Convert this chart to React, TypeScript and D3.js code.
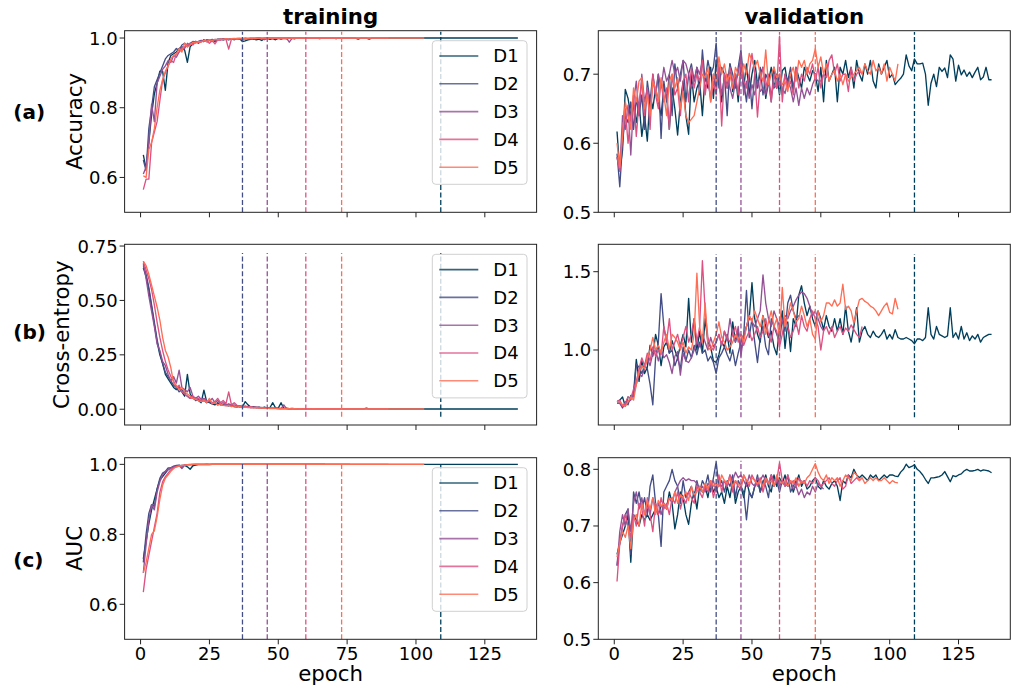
import * as d3 from 'd3'

const runNames = ['D1', 'D2', 'D3', 'D4', 'D5']
const runColors = ['#003f5c', '#444e86', '#955196', '#dd5182', '#ff6e54']
const bestEpochs = [109, 37, 46, 60, 73]
const epochTicks = [0, 25, 50, 75, 100, 125]

// ---- training accuracy ----
const trainAccD1 = [
  0.665, 0.625, 0.70, 0.78, 0.84, 0.87, 0.905, 0.905, 0.85, 0.93,
  0.95, 0.955, 0.96, 0.97, 0.975, 0.965, 0.93, 0.975, 0.985, 0.99,
  0.985, 0.99, 0.995, 0.99, 0.993, 0.995, 0.99, 0.996, 0.997, 0.995,
  0.997, 0.995, 0.998, 0.996, 0.997, 0.998, 0.99, 0.992, 0.995, 0.996,
  0.998, 0.995, 0.997, 0.993, 0.998, 0.999, 0.996, 0.998, 0.995, 0.999,
  0.997, 0.999, 0.998, 1, 0.999, 0.998, 1, 0.999, 1, 0.999,
  1, 0.999, 1, 1, 0.998, 1, 1, 0.999, 1, 1,
  0.998, 1, 1, 1, 0.999, 1, 1, 1, 0.997, 1,
  1, 1, 0.997, 1, 1, 1, 1, 1, 1, 1,
  1, 1, 1, 1, 1, 1, 1, 1, 1, 1,
  1, 1, 1, 1, 1, 1, 1, 1, 1, 1,
  1, 1, 1, 1, 1, 1, 1, 1, 1, 1,
  1, 1, 1, 1, 1, 1, 1, 1, 1, 1,
  1, 1, 1, 1, 1, 1, 1,
]
const trainAccD2 = [
  0.65, 0.62, 0.74, 0.80, 0.86, 0.88, 0.90, 0.92, 0.94, 0.95,
  0.955, 0.96, 0.97, 0.965, 0.98, 0.985, 0.975, 0.985, 0.99, 0.988,
  0.99, 0.993, 0.99, 0.995, 0.993, 0.996, 0.994, 0.997, 0.995, 0.998,
  0.996, 0.997, 0.998, 0.995, 0.998, 0.999, 0.997, 0.999, 0.998, 0.999,
  0.996, 0.999, 1, 0.998, 0.999, 1, 0.999, 1, 0.998, 1,
  1, 0.999, 1, 1, 0.999, 1, 1, 1, 0.999, 1,
  1, 1, 1, 1, 1, 1, 1,
]
const trainAccD3 = [
  0.61, 0.63, 0.70, 0.81, 0.76, 0.87, 0.89, 0.91, 0.92, 0.935,
  0.93, 0.95, 0.945, 0.96, 0.975, 0.97, 0.985, 0.98, 0.985, 0.99,
  0.988, 0.992, 0.99, 0.995, 0.993, 0.99, 0.996, 0.994, 0.997, 0.995,
  0.997, 0.996, 0.998, 0.997, 0.999, 0.998, 0.997, 0.999, 0.998, 0.999,
  0.999, 0.998, 1, 0.999, 0.995, 0.999, 1, 0.999, 1, 1,
  0.999, 1, 1, 0.988, 0.999, 1, 1, 1, 1, 0.999,
  1, 1, 1, 1, 1, 1, 1, 1, 1, 1,
  1, 1, 1, 1, 1, 1,
]
const trainAccD4 = [
  0.565, 0.595, 0.595, 0.70, 0.73, 0.76, 0.82, 0.88, 0.90, 0.92,
  0.935, 0.93, 0.955, 0.96, 0.97, 0.975, 0.98, 0.985, 0.98, 0.99,
  0.987, 0.99, 0.992, 0.99, 0.985, 0.993, 0.983, 0.995, 0.994, 0.997,
  0.996, 0.968, 0.997, 0.998, 0.996, 0.998, 0.999, 0.997, 0.999, 0.998,
  0.999, 1, 0.999, 0.998, 1, 0.999, 1, 1, 0.999, 1,
  1, 1, 0.999, 1, 1, 1, 1, 0.999, 1, 1,
  1, 1, 1, 1, 1, 1, 1, 1, 1, 1,
  1, 1, 1, 1, 1, 1, 1, 1, 1, 1,
  1, 1, 1, 1, 1, 1, 1, 1, 1, 1,
]
const trainAccD5 = [
  0.605, 0.60, 0.68, 0.70, 0.74, 0.80, 0.85, 0.88, 0.905, 0.92,
  0.94, 0.95, 0.955, 0.97, 0.96, 0.985, 0.975, 0.98, 0.988, 0.985,
  0.99, 0.988, 0.993, 0.99, 0.995, 0.993, 0.996, 0.995, 0.997, 0.996,
  0.998, 0.997, 0.998, 0.999, 0.998, 0.999, 0.999, 1, 0.999, 1,
  1, 0.999, 1, 1, 1, 0.999, 1, 1, 1, 1,
  1, 1, 1, 1, 1, 1, 1, 1, 1, 1,
  1, 1, 1, 1, 1, 1, 1, 1, 1, 1,
  1, 1, 1, 1, 1, 1, 1, 1, 1, 1,
  1, 1, 1, 1, 1, 1, 1, 1, 1, 1,
  1, 1, 1, 1, 1, 1, 1, 1, 1, 1,
  1, 1, 1,
]

// ---- validation accuracy ----
const valAccD1 = [
  0.617, 0.56, 0.59, 0.678, 0.665, 0.64, 0.655, 0.63, 0.66, 0.61,
  0.64, 0.603, 0.67, 0.65, 0.68, 0.66, 0.64, 0.68, 0.67, 0.62,
  0.68, 0.65, 0.612, 0.66, 0.69, 0.64, 0.613, 0.70, 0.66, 0.68,
  0.69, 0.64, 0.70, 0.68, 0.71, 0.665, 0.72, 0.69, 0.66, 0.70,
  0.68, 0.715, 0.675, 0.70, 0.66, 0.71, 0.68, 0.715, 0.67, 0.70,
  0.72, 0.685, 0.70, 0.71, 0.665, 0.69, 0.71, 0.68, 0.70, 0.67,
  0.705, 0.71, 0.685, 0.70, 0.675, 0.71, 0.695, 0.68, 0.71, 0.70,
  0.69, 0.705, 0.70, 0.675, 0.71, 0.66, 0.72, 0.69, 0.70, 0.71,
  0.66, 0.71, 0.70, 0.72, 0.695, 0.71, 0.68, 0.72, 0.70, 0.69,
  0.715, 0.70, 0.72, 0.69, 0.68, 0.715, 0.70, 0.71, 0.72, 0.695,
  0.70, 0.685, 0.69, 0.694, 0.70, 0.728, 0.712, 0.705, 0.722, 0.715,
  0.715, 0.716, 0.70, 0.655, 0.687, 0.70, 0.682, 0.71, 0.704, 0.709,
  0.695, 0.728, 0.722, 0.69, 0.713, 0.699, 0.706, 0.697, 0.703, 0.695,
  0.703, 0.71, 0.692, 0.696, 0.71, 0.692, 0.692,
]
const valAccD2 = [
  0.585, 0.537, 0.60, 0.64, 0.63, 0.66, 0.62, 0.665, 0.64, 0.67,
  0.62, 0.69, 0.66, 0.70, 0.67, 0.70, 0.607, 0.69, 0.66, 0.70,
  0.64, 0.715, 0.68, 0.70, 0.72, 0.66, 0.70, 0.715, 0.69, 0.71,
  0.67, 0.735, 0.69, 0.72, 0.70, 0.71, 0.745, 0.68, 0.71, 0.70,
  0.64, 0.715, 0.70, 0.68, 0.71, 0.735, 0.69, 0.66, 0.70, 0.65,
  0.70, 0.68, 0.71, 0.67, 0.70, 0.69, 0.66, 0.71, 0.68, 0.70,
  0.67, 0.70, 0.69, 0.71, 0.68, 0.70, 0.695,
]
const valAccD3 = [
  0.58, 0.56, 0.64, 0.62, 0.655, 0.583, 0.66, 0.69, 0.64, 0.70,
  0.66, 0.68, 0.64, 0.695, 0.67, 0.70, 0.68, 0.71, 0.69, 0.70,
  0.72, 0.70, 0.71, 0.69, 0.72, 0.715, 0.70, 0.68, 0.69, 0.71,
  0.70, 0.72, 0.68, 0.69, 0.665, 0.70, 0.68, 0.71, 0.67, 0.695,
  0.70, 0.68, 0.665, 0.69, 0.70, 0.728, 0.67, 0.69, 0.665, 0.685,
  0.67, 0.69, 0.675, 0.68, 0.67, 0.69, 0.67, 0.685, 0.68, 0.69,
  0.68, 0.672, 0.69, 0.68, 0.66, 0.68, 0.655, 0.68, 0.665, 0.68,
  0.67, 0.685, 0.695, 0.69, 0.69, 0.70,
]
const valAccD4 = [
  0.58, 0.56, 0.62, 0.65, 0.60, 0.64, 0.67, 0.61, 0.66, 0.69,
  0.64, 0.68, 0.62, 0.70, 0.67, 0.65, 0.69, 0.66, 0.68, 0.62,
  0.70, 0.67, 0.68, 0.64, 0.69, 0.70, 0.66, 0.71, 0.68, 0.70,
  0.69, 0.72, 0.67, 0.70, 0.66, 0.69, 0.67, 0.715, 0.625, 0.70,
  0.68, 0.71, 0.69, 0.70, 0.67, 0.72, 0.69, 0.68, 0.70, 0.73,
  0.70, 0.638, 0.69, 0.71, 0.68, 0.70, 0.66, 0.70, 0.68, 0.755,
  0.66, 0.70, 0.68, 0.69, 0.67, 0.71, 0.68, 0.70, 0.69, 0.71,
  0.70, 0.715, 0.69, 0.71, 0.68, 0.70, 0.695, 0.72, 0.728, 0.70,
  0.715, 0.69, 0.70, 0.70, 0.675, 0.71, 0.69, 0.70, 0.705, 0.70,
]
const valAccD5 = [
  0.60, 0.565, 0.61, 0.66, 0.64, 0.62, 0.68, 0.66, 0.69, 0.695,
  0.65, 0.67, 0.64, 0.69, 0.68, 0.66, 0.695, 0.67, 0.64, 0.69,
  0.70, 0.68, 0.695, 0.65, 0.675, 0.64, 0.63, 0.635, 0.64, 0.66,
  0.68, 0.70, 0.695, 0.71, 0.66, 0.70, 0.69, 0.725, 0.70, 0.715,
  0.69, 0.70, 0.68, 0.71, 0.70, 0.695, 0.715, 0.70, 0.73, 0.72,
  0.71, 0.72, 0.70, 0.69, 0.735, 0.685, 0.70, 0.71, 0.695, 0.70,
  0.685, 0.69, 0.675, 0.70, 0.71, 0.69, 0.72, 0.71, 0.72, 0.70,
  0.715, 0.72, 0.737, 0.71, 0.725, 0.70, 0.715, 0.69, 0.70, 0.705,
  0.69, 0.70, 0.685, 0.70, 0.69, 0.695, 0.70, 0.705, 0.71, 0.70,
  0.715, 0.705, 0.70, 0.72, 0.705, 0.71, 0.70, 0.715, 0.69, 0.71,
  0.70, 0.69, 0.715,
]

// ---- training cross-entropy ----
const trainLossD1 = [
  0.65, 0.61, 0.55, 0.47, 0.39, 0.31, 0.25, 0.21, 0.16, 0.14,
  0.12, 0.10, 0.09, 0.10, 0.08, 0.06, 0.16, 0.07, 0.05, 0.045,
  0.04, 0.03, 0.088, 0.035, 0.03, 0.025, 0.02, 0.03, 0.02, 0.02,
  0.018, 0.015, 0.02, 0.012, 0.01, 0.015, 0.01, 0.035, 0.02, 0.01,
  0.012, 0.008, 0.01, 0.006, 0.01, 0.005, 0.008, 0.03, 0.006, 0.005,
  0.03, 0.004, 0.005, 0.003, 0.004, 0.002, 0.003, 0.002, 0.003, 0.002,
  0.002, 0.003, 0.002, 0.001, 0.002, 0.001, 0.002, 0.001, 0.001, 0.002,
  0.001, 0.001, 0.002, 0.001, 0.001, 0.001, 0.001, 0.001, 0.001, 0.001,
  0.001, 0.005, 0.001, 0.001, 0.001, 0.001, 0.001, 0.001, 0.001, 0.001,
  0.001, 0.001, 0.001, 0.001, 0.001, 0.001, 0.001, 0.001, 0.001, 0.001,
  0.001, 0.001, 0.001, 0.001, 0.001, 0.001, 0.001, 0.001, 0.001, 0.001,
  0.001, 0.001, 0.001, 0.001, 0.001, 0.001, 0.001, 0.001, 0.001, 0.001,
  0.001, 0.001, 0.001, 0.001, 0.001, 0.001, 0.001, 0.001, 0.001, 0.001,
  0.001, 0.001, 0.001, 0.001, 0.001, 0.001, 0.001,
]
const trainLossD2 = [
  0.66, 0.62, 0.56, 0.48, 0.40, 0.32, 0.26, 0.21, 0.17, 0.15,
  0.13, 0.11, 0.10, 0.08, 0.09, 0.07, 0.06, 0.05, 0.055, 0.04,
  0.045, 0.035, 0.04, 0.03, 0.035, 0.025, 0.03, 0.02, 0.025, 0.02,
  0.018, 0.02, 0.015, 0.012, 0.015, 0.01, 0.012, 0.009, 0.01, 0.008,
  0.007, 0.008, 0.006, 0.007, 0.005, 0.006, 0.004, 0.005, 0.004, 0.003,
  0.004, 0.003, 0.003, 0.002, 0.003, 0.002, 0.002, 0.002, 0.001, 0.002,
  0.001, 0.002, 0.001, 0.001, 0.001, 0.001, 0.001,
]
const trainLossD3 = [
  0.67, 0.60, 0.52, 0.45, 0.38, 0.30, 0.27, 0.22, 0.20, 0.16,
  0.13, 0.15, 0.12, 0.18, 0.10, 0.09, 0.08, 0.10, 0.06, 0.05,
  0.06, 0.045, 0.05, 0.04, 0.035, 0.05, 0.03, 0.04, 0.025, 0.03,
  0.02, 0.025, 0.018, 0.02, 0.015, 0.012, 0.015, 0.01, 0.012, 0.008,
  0.01, 0.007, 0.008, 0.006, 0.007, 0.005, 0.006, 0.004, 0.005, 0.004,
  0.003, 0.02, 0.003, 0.002, 0.003, 0.002, 0.002, 0.003, 0.002, 0.001,
  0.002, 0.001, 0.001, 0.001, 0.001, 0.001, 0.001, 0.001, 0.001, 0.001,
  0.001, 0.001, 0.001, 0.001, 0.001, 0.001,
]
const trainLossD4 = [
  0.68, 0.64, 0.60, 0.55, 0.48, 0.40, 0.33, 0.27, 0.22, 0.18,
  0.15, 0.13, 0.10, 0.11, 0.08, 0.07, 0.06, 0.05, 0.06, 0.045,
  0.05, 0.04, 0.045, 0.035, 0.04, 0.03, 0.035, 0.05, 0.03, 0.04,
  0.025, 0.08, 0.02, 0.03, 0.018, 0.015, 0.012, 0.015, 0.01, 0.012,
  0.008, 0.01, 0.007, 0.008, 0.006, 0.005, 0.006, 0.004, 0.005, 0.004,
  0.003, 0.004, 0.003, 0.002, 0.003, 0.002, 0.002, 0.002, 0.001, 0.002,
  0.001, 0.001, 0.002, 0.001, 0.001, 0.001, 0.001, 0.001, 0.001, 0.001,
  0.001, 0.001, 0.001, 0.001, 0.001, 0.001, 0.001, 0.001, 0.001, 0.001,
  0.001, 0.001, 0.001, 0.001, 0.001, 0.001, 0.001, 0.001, 0.001, 0.001,
]
const trainLossD5 = [
  0.68, 0.66, 0.62, 0.57, 0.52, 0.47, 0.41, 0.33, 0.27, 0.24,
  0.19, 0.12, 0.11, 0.09, 0.10, 0.08, 0.07, 0.06, 0.05, 0.045,
  0.04, 0.035, 0.04, 0.03, 0.05, 0.025, 0.03, 0.02, 0.025, 0.018,
  0.015, 0.018, 0.012, 0.015, 0.01, 0.012, 0.008, 0.01, 0.007, 0.008,
  0.006, 0.007, 0.005, 0.006, 0.004, 0.005, 0.003, 0.004, 0.003, 0.002,
  0.003, 0.002, 0.002, 0.002, 0.001, 0.002, 0.001, 0.001, 0.001, 0.001,
  0.001, 0.001, 0.001, 0.001, 0.001, 0.001, 0.001, 0.001, 0.001, 0.001,
  0.001, 0.001, 0.001, 0.001, 0.001, 0.001, 0.001, 0.001, 0.001, 0.001,
  0.001, 0.001, 0.001, 0.001, 0.001, 0.001, 0.001, 0.001, 0.001, 0.001,
  0.001, 0.001, 0.001, 0.001, 0.001, 0.001, 0.001, 0.001, 0.001, 0.001,
  0.001, 0.001, 0.001,
]

// ---- validation cross-entropy ----
const valLossD1 = [
  0.67, 0.68, 0.70, 0.64, 0.70, 0.69, 0.72, 0.94, 0.80, 0.93,
  0.85, 0.89, 1.03, 0.96, 1.10, 1.03, 0.90, 1.02, 1.05, 0.98,
  1.06, 1.00, 0.95, 1.03, 1.10, 1.02, 1.33, 1.05, 1.20, 1.00,
  1.12, 0.98, 1.20, 1.05, 1.02, 0.93, 0.92, 0.97, 1.05, 1.02,
  1.10, 0.98, 1.18, 1.05, 1.12, 1.00, 1.08, 1.15, 1.20, 1.43,
  1.20, 1.10, 1.05, 1.22, 1.15, 1.08, 1.12, 1.02, 0.97, 1.15,
  1.25, 1.01, 1.18, 0.99, 1.20, 1.15, 1.35, 1.41, 1.30, 1.22,
  1.28, 1.20, 1.15, 1.25, 1.20, 1.13, 1.22, 1.15, 1.12, 1.20,
  1.12, 1.20, 1.10, 1.28, 1.12, 1.05, 1.15, 1.27, 1.05, 1.12,
  1.15, 1.10, 1.08, 1.12, 1.09, 1.08, 1.10, 1.13, 1.07, 1.10,
  1.07, 1.13, 1.08, 1.07, 1.07, 1.08, 1.07, 1.06, 1.04, 1.07,
  1.07, 1.06, 1.08, 1.27, 1.10, 1.07, 1.15, 1.10, 1.09, 1.08,
  1.09, 1.27, 1.08, 1.11, 1.07, 1.15, 1.07, 1.11, 1.06, 1.09,
  1.07, 1.10, 1.05, 1.08, 1.09, 1.10, 1.10,
]
const valLossD2 = [
  0.66, 0.66, 0.63, 0.67, 0.65, 0.71, 0.70, 0.91, 0.89, 0.85,
  0.90, 0.88, 0.78, 0.65, 0.95, 1.05, 1.36, 1.15, 1.05, 0.98,
  1.00, 0.90, 0.95, 0.88, 1.02, 0.93, 1.00, 0.95, 1.03, 0.97,
  1.05, 0.98, 1.00, 0.93, 0.96, 0.92, 0.85, 0.95, 0.98, 1.02,
  0.97, 0.93, 1.00, 0.90, 0.98, 1.05, 1.10, 1.38, 1.08, 1.20,
  1.05, 0.92, 1.08, 1.15, 1.02, 0.97, 1.20, 1.15, 1.10, 1.05,
  1.20, 1.12, 1.30, 1.35, 1.25, 1.20, 1.22,
]
const valLossD3 = [
  0.66, 0.66, 0.64, 0.65, 0.67, 0.68, 0.72, 0.78, 0.85, 0.83,
  0.88, 0.95, 0.90, 0.98, 1.00, 0.93, 1.00, 0.95, 0.97, 0.92,
  0.85, 0.96, 0.99, 0.84, 0.98, 0.93, 0.92, 0.95, 1.00, 1.05,
  1.02, 1.10, 1.05, 1.00, 1.08, 1.02, 1.05, 1.10, 1.03, 1.12,
  1.06, 1.20, 1.10, 1.05, 1.15, 0.96, 1.10, 1.15, 1.22, 1.18,
  1.15, 1.20, 1.25, 1.48, 1.30, 1.20, 1.15, 1.25, 1.20, 1.15,
  1.18, 1.22, 1.20, 1.25, 1.28, 1.32, 1.35, 1.37, 1.36, 1.33,
  1.28, 1.22, 1.25, 1.20, 1.15, 1.12,
]
const valLossD4 = [
  0.67, 0.68, 0.64, 0.66, 0.70, 0.69, 0.75, 0.80, 0.88, 0.95,
  0.90, 0.98, 0.93, 1.02, 0.96, 1.00, 0.97, 1.15, 1.05, 1.20,
  1.00, 1.05, 1.10, 1.02, 1.08, 1.15, 1.05, 1.10, 1.20, 1.05,
  1.15, 1.57, 1.25, 1.08, 1.02, 1.00, 1.05, 1.10, 1.03, 1.12,
  1.08, 1.05, 1.10, 1.15, 1.05, 1.10, 1.03, 1.08, 1.12, 1.06,
  1.10, 1.15, 1.08, 1.12, 1.20, 1.10, 1.05, 1.15, 1.12, 1.02,
  1.10, 1.20, 1.15, 1.08, 1.12, 1.18, 1.10, 1.22, 1.15, 1.12,
  1.20, 1.25, 1.20, 1.15, 1.00, 1.12, 1.15, 1.10, 1.15, 1.08,
  1.12, 1.15, 1.10, 1.14, 1.12, 1.16, 1.13, 1.10, 1.08, 1.15,
]
const valLossD5 = [
  0.67, 0.67, 0.65, 0.64, 0.67, 0.70, 0.68, 0.78, 0.86, 0.90,
  0.88, 0.95, 1.00, 1.08, 1.00, 1.03, 0.98, 1.05, 1.10, 1.00,
  1.10, 1.08, 1.05, 1.00, 1.05, 0.98, 1.02, 1.00, 1.10, 1.49,
  1.15, 1.05, 1.30, 1.02, 1.00, 1.05, 1.10, 1.18, 1.08, 1.05,
  1.00, 1.02, 1.05, 1.10, 1.07, 1.10, 1.05, 1.15, 1.22, 1.18,
  1.25, 1.20, 1.15, 1.22, 1.10, 1.18, 1.25, 1.15, 1.20, 1.08,
  1.40, 1.15, 1.22, 1.30, 1.25, 1.18, 1.20, 1.28, 1.22, 1.15,
  1.20, 1.10, 1.07, 1.25, 1.18, 1.22, 1.30, 1.30, 1.28, 1.32,
  1.28, 1.30, 1.42, 1.26, 1.28, 1.25, 1.17, 1.25, 1.32, 1.33,
  1.31, 1.30, 1.28, 1.27, 1.25, 1.22, 1.25, 1.28, 1.30, 1.24,
  1.23, 1.33, 1.26,
]

// ---- training AUC ----
const trainAucD1 = [
  0.73, 0.78, 0.83, 0.87, 0.90, 0.93, 0.955, 0.965, 0.975, 0.985,
  0.99, 0.993, 0.995, 0.996, 0.997, 0.997, 0.993, 0.986, 0.996, 0.998,
  0.999, 0.999, 0.999, 1, 0.999, 1, 1, 1, 1, 1,
  1, 1, 1, 1, 1, 1, 1, 1, 1, 1,
  1, 1, 1, 1, 1, 1, 1, 1, 1, 1,
  1, 1, 1, 1, 1, 1, 1, 1, 1, 1,
  1, 1, 1, 1, 1, 1, 1, 1, 1, 1,
  1, 1, 1, 1, 1, 1, 1, 1, 1, 1,
  1, 1, 1, 1, 1, 1, 1, 1, 1, 1,
  1, 1, 1, 1, 1, 1, 1, 1, 1, 1,
  1, 1, 1, 1, 1, 1, 1, 1, 1, 1,
  1, 1, 1, 1, 1, 1, 1, 1, 1, 1,
  1, 1, 1, 1, 1, 1, 1, 1, 1, 1,
  1, 1, 1, 1, 1, 1, 1,
]
const trainAucD2 = [
  0.72, 0.80, 0.86, 0.885, 0.88, 0.93, 0.96, 0.975, 0.98, 0.99,
  0.99, 0.995, 0.997, 0.998, 0.99, 0.998, 0.999, 1, 0.999, 1,
  1, 1, 1, 1, 1, 1, 1, 1, 1, 1,
  1, 1, 1, 1, 1, 1, 1, 1, 1, 1,
  1, 1, 1, 1, 1, 1, 1, 1, 1, 1,
  1, 1, 1, 1, 1, 1, 1, 1, 1, 1,
  1, 1, 1, 1, 1, 1, 1,
]
const trainAucD3 = [
  0.69, 0.77, 0.84, 0.885, 0.87, 0.92, 0.95, 0.97, 0.98, 0.985,
  0.99, 0.993, 0.995, 0.997, 0.988, 0.998, 0.999, 0.999, 1, 1,
  1, 1, 1, 1, 1, 1, 1, 1, 1, 1,
  1, 1, 1, 1, 1, 1, 1, 1, 1, 1,
  1, 1, 1, 1, 1, 1, 1, 1, 1, 1,
  1, 1, 1, 1, 1, 1, 1, 1, 1, 1,
  1, 1, 1, 1, 1, 1, 1, 1, 1, 1,
  1, 1, 1, 1, 1, 1,
]
const trainAucD4 = [
  0.635, 0.70, 0.74, 0.78, 0.82, 0.86, 0.92, 0.95, 0.965, 0.975,
  0.985, 0.99, 0.993, 0.995, 0.996, 0.998, 0.999, 0.999, 1, 1,
  1, 1, 1, 1, 1, 1, 1, 1, 1, 1,
  1, 1, 1, 1, 1, 1, 1, 1, 1, 1,
  1, 1, 1, 1, 1, 1, 1, 1, 1, 1,
  1, 1, 1, 1, 1, 1, 1, 1, 1, 1,
  1, 1, 1, 1, 1, 1, 1, 1, 1, 1,
  1, 1, 1, 1, 1, 1, 1, 1, 1, 1,
  1, 1, 1, 1, 1, 1, 1, 1, 1, 1,
]
const trainAucD5 = [
  0.69, 0.72, 0.76, 0.80, 0.81, 0.85, 0.90, 0.94, 0.96, 0.97,
  0.98, 0.988, 0.993, 0.995, 0.997, 0.998, 0.999, 0.999, 1, 1,
  1, 1, 1, 1, 1, 1, 1, 1, 1, 1,
  1, 1, 1, 1, 1, 1, 1, 1, 1, 1,
  1, 1, 1, 1, 1, 1, 1, 1, 1, 1,
  1, 1, 1, 1, 1, 1, 1, 1, 1, 1,
  1, 1, 1, 1, 1, 1, 1, 1, 1, 1,
  1, 1, 1, 1, 1, 1, 1, 1, 1, 1,
  1, 1, 1, 1, 1, 1, 1, 1, 1, 1,
  1, 1, 1, 1, 1, 1, 1, 1, 1, 1,
  1, 1, 1,
]

// ---- validation AUC ----
const valAucD1 = [
  0.65, 0.67, 0.685, 0.70, 0.72, 0.636, 0.72, 0.71, 0.70, 0.72,
  0.71, 0.72, 0.71, 0.72, 0.73, 0.72, 0.735, 0.74, 0.73, 0.76,
  0.74, 0.695, 0.72, 0.76, 0.75, 0.72, 0.703, 0.74, 0.76, 0.73,
  0.77, 0.76, 0.77, 0.75, 0.78, 0.76, 0.77, 0.75, 0.76, 0.74,
  0.77, 0.75, 0.78, 0.74, 0.76, 0.77, 0.75, 0.78, 0.76, 0.75,
  0.77, 0.78, 0.76, 0.775, 0.79, 0.77, 0.76, 0.79, 0.77, 0.785,
  0.775, 0.79, 0.77, 0.78, 0.76, 0.775, 0.79, 0.77, 0.78, 0.765,
  0.77, 0.78, 0.785, 0.77, 0.765, 0.78, 0.77, 0.765, 0.775, 0.78,
  0.77, 0.745, 0.78, 0.775, 0.79, 0.785, 0.80, 0.79, 0.785, 0.79,
  0.785, 0.78, 0.79, 0.785, 0.79, 0.78, 0.785, 0.79, 0.785, 0.79,
  0.79, 0.788, 0.787, 0.795, 0.80, 0.809, 0.803, 0.805, 0.808, 0.80,
  0.796, 0.79, 0.782, 0.775, 0.785, 0.785, 0.786, 0.787, 0.79, 0.796,
  0.787, 0.778, 0.789, 0.787, 0.79, 0.792, 0.797, 0.80, 0.797, 0.797,
  0.798, 0.80, 0.797, 0.799, 0.798, 0.797, 0.794,
]
const valAucD2 = [
  0.63, 0.67, 0.70, 0.72, 0.73, 0.65, 0.76, 0.74, 0.76, 0.73,
  0.75, 0.72, 0.77, 0.79, 0.74, 0.72, 0.664, 0.76, 0.77, 0.78,
  0.80, 0.78, 0.77, 0.74, 0.78, 0.75, 0.76, 0.77, 0.75, 0.78,
  0.76, 0.78, 0.77, 0.79, 0.76, 0.785, 0.813, 0.77, 0.78, 0.76,
  0.78, 0.77, 0.79, 0.75, 0.78, 0.77, 0.76, 0.711, 0.76, 0.75,
  0.77, 0.79, 0.76, 0.78, 0.77, 0.75, 0.79, 0.77, 0.78, 0.76,
  0.78, 0.77, 0.79, 0.76, 0.77, 0.78, 0.77,
]
const valAucD3 = [
  0.63, 0.69, 0.72, 0.70, 0.73, 0.69, 0.74, 0.76, 0.73, 0.75,
  0.72, 0.74, 0.72, 0.75, 0.73, 0.74, 0.72, 0.74, 0.73, 0.75,
  0.74, 0.76, 0.77, 0.78, 0.785, 0.78, 0.783, 0.78, 0.78, 0.775,
  0.765, 0.77, 0.76, 0.775, 0.77, 0.78, 0.76, 0.775, 0.77, 0.78,
  0.77, 0.79, 0.78, 0.795, 0.785, 0.79, 0.78, 0.77, 0.79, 0.775,
  0.77, 0.785, 0.78, 0.79, 0.78, 0.775, 0.79, 0.78, 0.785, 0.77,
  0.78, 0.775, 0.77, 0.78, 0.765, 0.77, 0.755, 0.765, 0.75, 0.76,
  0.755, 0.77, 0.76, 0.775, 0.77, 0.765,
]
const valAucD4 = [
  0.602, 0.67, 0.70, 0.72, 0.70, 0.68, 0.72, 0.70, 0.74, 0.73,
  0.70, 0.75, 0.72, 0.69, 0.74, 0.72, 0.75, 0.73, 0.74, 0.72,
  0.75, 0.74, 0.76, 0.73, 0.75, 0.74, 0.76, 0.75, 0.74, 0.77,
  0.76, 0.75, 0.77, 0.76, 0.78, 0.75, 0.77, 0.79, 0.76, 0.78,
  0.77, 0.79, 0.76, 0.78, 0.77, 0.765, 0.79, 0.78, 0.77, 0.79,
  0.78, 0.77, 0.785, 0.76, 0.78, 0.775, 0.79, 0.77, 0.78, 0.812,
  0.78, 0.77, 0.79, 0.775, 0.78, 0.77, 0.785, 0.775, 0.78, 0.77,
  0.78, 0.775, 0.785, 0.78, 0.77, 0.775, 0.78, 0.785, 0.775, 0.77,
  0.78, 0.785, 0.765, 0.77, 0.79, 0.775, 0.78, 0.785, 0.78, 0.785,
]
const valAucD5 = [
  0.645, 0.67, 0.69, 0.68, 0.70, 0.66, 0.71, 0.72, 0.70, 0.74,
  0.72, 0.745, 0.73, 0.75, 0.72, 0.745, 0.735, 0.74, 0.73, 0.75,
  0.745, 0.76, 0.74, 0.755, 0.75, 0.76, 0.745, 0.77, 0.755, 0.76,
  0.77, 0.76, 0.775, 0.765, 0.78, 0.77, 0.775, 0.77, 0.79, 0.78,
  0.775, 0.785, 0.77, 0.78, 0.775, 0.77, 0.79, 0.78, 0.775, 0.785,
  0.78, 0.775, 0.78, 0.77, 0.785, 0.775, 0.78, 0.77, 0.79, 0.78,
  0.775, 0.78, 0.77, 0.78, 0.775, 0.785, 0.77, 0.78, 0.775, 0.785,
  0.79, 0.80, 0.81, 0.795, 0.785, 0.78, 0.79, 0.775, 0.785, 0.78,
  0.785, 0.77, 0.78, 0.79, 0.785, 0.78, 0.795, 0.79, 0.78, 0.785,
  0.775, 0.78, 0.785, 0.78, 0.785, 0.78, 0.78, 0.785, 0.78, 0.775,
  0.78, 0.777, 0.776,
]

const FONT = 'DejaVu Sans'
const W = 412
const colX = [124.6, 598.3]
const rowY: [number, number][] = [[30.7, 212.3], [244.3, 425], [457.7, 639.3]]
const rowLetter = ['(a)', '(b)', '(c)']
const rowLetterY = [118.5, 338.5, 566.5]
const rowYLabel = ['Accuracy', 'Cross-entropy', 'AUC']
const rowYLabelX = [81.5, 68.8, 82.2]

interface PanelCfg {
  row: number
  col: number
  series: number[][]
  yDomain: [number, number]
  yTicks: number[]
  fmt: string
  vRange: [number, number]
}

const panels: PanelCfg[] = [
  { row: 0, col: 0, series: [trainAccD1, trainAccD2, trainAccD3, trainAccD4, trainAccD5], yDomain: [0.5, 1.021], yTicks: [0.6, 0.8, 1.0], fmt: '.1f', vRange: [0.5, 1.018] },
  { row: 0, col: 1, series: [valAccD1, valAccD2, valAccD3, valAccD4, valAccD5], yDomain: [0.5, 0.763], yTicks: [0.5, 0.6, 0.7], fmt: '.1f', vRange: [0.5, 0.761] },
  { row: 1, col: 0, series: [trainLossD1, trainLossD2, trainLossD3, trainLossD4, trainLossD5], yDomain: [-0.0725, 0.758], yTicks: [0, 0.25, 0.5, 0.75], fmt: '.2f', vRange: [-0.035, 0.718] },
  { row: 1, col: 1, series: [valLossD1, valLossD2, valLossD3, valLossD4, valLossD5], yDomain: [0.521, 1.675], yTicks: [1.0, 1.5], fmt: '.1f', vRange: [0.57, 1.613] },
  { row: 2, col: 0, series: [trainAucD1, trainAucD2, trainAucD3, trainAucD4, trainAucD5], yDomain: [0.5, 1.019], yTicks: [0.6, 0.8, 1.0], fmt: '.1f', vRange: [0.5, 1.003] },
  { row: 2, col: 1, series: [valAucD1, valAucD2, valAucD3, valAucD4, valAucD5], yDomain: [0.5, 0.8205], yTicks: [0.5, 0.6, 0.7, 0.8], fmt: '.1f', vRange: [0.5, 0.815] },
]

function Panel({ cfg }: { cfg: PanelCfg }) {
  const x0 = colX[cfg.col]
  const [y0, y1] = rowY[cfg.row]
  const x = d3.scaleLinear().domain([-5.8, 143.8]).range([x0, x0 + W])
  const y = d3.scaleLinear().domain(cfg.yDomain).range([y1, y0])
  const line = d3.line<number>().x((_, i) => x(i + 1)).y(d => y(d))
  const fmt = d3.format(cfg.fmt)
  const clipId = `clip-${cfg.row}-${cfg.col}`
  const showXLabels = cfg.row === 2
  const legendX = x0 + W - 104.3
  const legendY = y0 + 10

  return (
    <g>
      <defs>
        <clipPath id={clipId}>
          <rect x={x0} y={y0} width={W} height={y1 - y0} />
        </clipPath>
      </defs>
      <g clipPath={`url(#${clipId})`}>
        {cfg.series.map((s, i) => (
          <path key={i} d={line(s) || ''} fill="none" stroke={runColors[i]} strokeWidth={1.35} strokeLinejoin="round" />
        ))}
        {bestEpochs.map((e, i) => (
          <line key={i} x1={x(e)} x2={x(e)} y1={y(cfg.vRange[0])} y2={y(cfg.vRange[1])}
            stroke={runColors[i]} strokeWidth={1.3} strokeDasharray="5,2.4" />
        ))}
      </g>
      <rect x={x0} y={y0} width={W} height={y1 - y0} fill="none" stroke="#222" strokeWidth={1} />
      {epochTicks.map(t => (
        <g key={t}>
          <line x1={x(t)} x2={x(t)} y1={y1} y2={y1 + 5} stroke="#222" strokeWidth={1} />
          {showXLabels && (
            <text x={x(t)} y={y1 + 20.7} textAnchor="middle" fontSize={18} fontFamily={FONT} fill="#000">{t}</text>
          )}
        </g>
      ))}
      {cfg.yTicks.map(t => (
        <g key={t}>
          <line x1={x0 - 5} x2={x0} y1={y(t)} y2={y(t)} stroke="#222" strokeWidth={1} />
          <text x={x0 - 7} y={y(t) + 6.5} textAnchor="end" fontSize={18} fontFamily={FONT} fill="#000">{fmt(t)}</text>
        </g>
      ))}
      {showXLabels && (
        <text x={x0 + W / 2} y={y1 + 41.9} textAnchor="middle" fontSize={21.3} fontFamily={FONT} fill="#000">epoch</text>
      )}
      {cfg.col === 0 && (
        <g>
          <rect x={legendX} y={legendY} width={94.7} height={143.6} rx={3.5}
            fill="#fff" fillOpacity={0.8} stroke="#d0d0d0" strokeWidth={1} />
          {runNames.map((n, i) => {
            const ly = legendY + 15.3 + i * 27.8
            return (
              <g key={n}>
                <line x1={legendX + 7} x2={legendX + 46} y1={ly} y2={ly} stroke={runColors[i]} strokeWidth={1.6} strokeOpacity={0.8} />
                <text x={legendX + 61} y={ly + 6.4} fontSize={18} fontFamily={FONT} fill="#000">{n}</text>
              </g>
            )
          })}
        </g>
      )}
    </g>
  )
}

export default function App() {
  return (
    <svg width={1018} height={687} style={{ position: 'absolute', left: 0, top: 0, background: '#fff' }}>
      <rect width={1018} height={687} fill="#fff" />
      {panels.map(p => <Panel key={`${p.row}-${p.col}`} cfg={p} />)}
      <text x={colX[0] + W / 2} y={23.5} textAnchor="middle" fontSize={21.3} fontWeight="bold" fontFamily={FONT}>training</text>
      <text x={colX[1] + W / 2} y={23.5} textAnchor="middle" fontSize={21.3} fontWeight="bold" fontFamily={FONT}>validation</text>
      {rowY.map(([a, b], r) => (
        <g key={r}>
          <text transform={`translate(${rowYLabelX[r]},${(a + b) / 2}) rotate(-90)`} textAnchor="middle"
            fontSize={21.3} fontFamily={FONT}>{rowYLabel[r]}</text>
          <text x={13.3} y={rowLetterY[r]} fontSize={20} fontWeight="bold" fontFamily={FONT}>{rowLetter[r]}</text>
        </g>
      ))}
    </svg>
  )
}
